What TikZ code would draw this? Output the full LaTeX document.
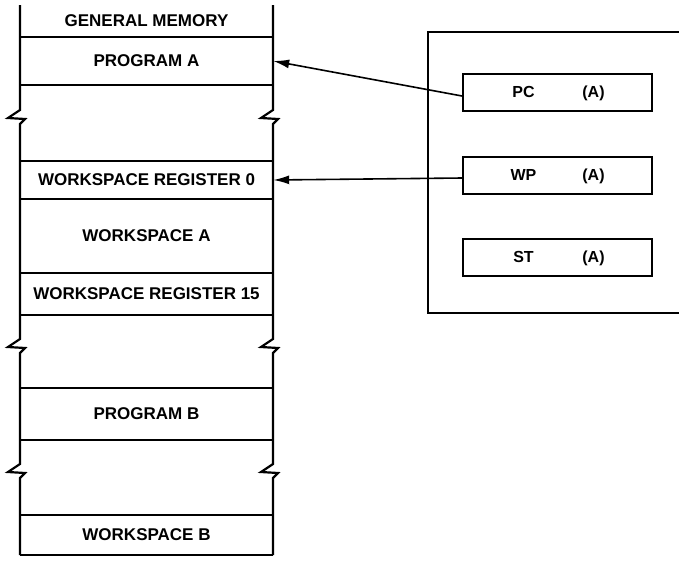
\documentclass[tikz,border=0pt]{standalone}
\usepackage{fontspec}
\setmainfont{Liberation Sans}
\usetikzlibrary{arrows.meta}

\begin{document}
\begin{tikzpicture}[x=1pt,y=-1pt,
    cell/.style={minimum width=253pt, inner sep=0pt, font=\fontsize{17}{19}\selectfont\bfseries},
    reg/.style={draw, line width=2pt, minimum width=189pt, minimum height=37pt},
    regtext/.style={anchor=base, inner sep=0pt, font=\fontsize{16}{18}\selectfont\bfseries},
    ptr/.style={line width=1.6pt, -{Latex[length=16pt,width=9pt]}}]

    \useasboundingbox (0,0) rectangle (679,560);

    % memory column, broken three times
    \foreach \x in {20,273}
        \draw[line width=2.2pt] (\x,5) -- (\x,110) -- ++(-12,8) -- ++(17,1) -- ++(-5,5)
            -- (\x,339) -- ++(-12,8) -- ++(17,1) -- ++(-5,5)
            -- (\x,464) -- ++(-12,8) -- ++(17,1) -- ++(-5,5) -- (\x,555);
    \foreach \y in {37,85,161,199,273,315,388,440,515,555}
        \draw[line width=2pt] (20,\y) -- (273,\y);

    \node[cell] (genmem) at (146.5,21) {GENERAL MEMORY};
    \node[cell] (proga) at (146.5,61) {PROGRAM A};
    \node[cell] (wr0) at (146.5,180) {WORKSPACE REGISTER 0};
    \node[cell] (wsa) at (146.5,236) {WORKSPACE A};
    \node[cell] (wr15) at (146.5,294) {WORKSPACE REGISTER 15};
    \node[cell] (progb) at (146.5,414) {PROGRAM B};
    \node[cell] (wsb) at (146.5,535) {WORKSPACE B};

    % processor registers
    \draw[line width=2pt] (679,32) -- (428,32) -- (428,313) -- (679,313);
    \node[reg] (pc) at (557.5,92) {};
    \node[reg] (wp) at (557.5,175) {};
    \node[reg] (st) at (557.5,257) {};
    \foreach \r/\n in {pc/PC, wp/WP, st/ST} {
        \node[regtext] (\r name) at ([xshift=-34pt,yshift=-5.5pt]\r.center) {\n};
        \node[regtext] (\r val) at ([xshift=36pt,yshift=-5.5pt]\r.center) {(A)};
    }

    \draw[ptr] ([yshift=-4pt]pc.west) -- (proga.east);
    \draw[ptr] ([yshift=-3pt]wp.west) -- (wr0.east);

\end{tikzpicture}
\end{document}
